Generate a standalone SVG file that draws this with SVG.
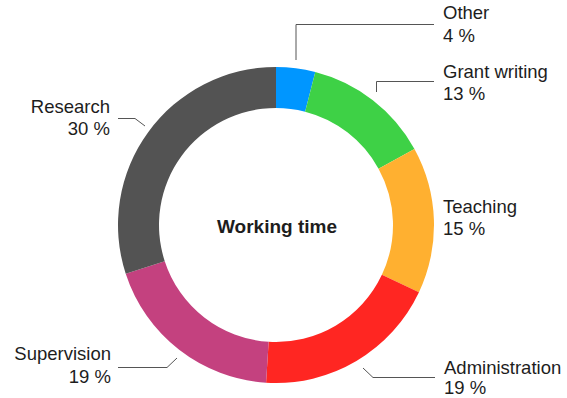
<svg xmlns="http://www.w3.org/2000/svg" width="567" height="398" viewBox="0 0 567 398">
<style>
text{font-family:"Liberation Sans",Arial,sans-serif;font-size:18.5px;fill:#1d1d1d}
.e{text-anchor:end}
.t{font-weight:bold;text-anchor:middle;font-size:19px}
.l{fill:none;stroke:#555;stroke-width:1}
</style>
<rect width="567" height="398" fill="#fff"/>
<g id="other"><path d="M276,67 A158,158 0 0 1 315.29,71.96 L305.10,111.68 A117,117 0 0 0 276,108 Z" fill="#0096ff"/><text x="443" y="19">Other</text><text x="443" y="42">4 %</text></g>
<g id="grant"><path d="M315.29,71.96 A158,158 0 0 1 414.46,148.88 L378.53,168.64 A117,117 0 0 0 305.10,111.68 Z" fill="#3ed146"/><text x="443" y="78">Grant writing</text><text x="443" y="100">13 %</text></g>
<g id="teaching"><path d="M414.46,148.88 A158,158 0 0 1 418.96,292.27 L381.87,274.82 A117,117 0 0 0 378.53,168.64 Z" fill="#ffb030"/><text x="443" y="213">Teaching</text><text x="443" y="235">15 %</text></g>
<g id="administration"><path d="M418.96,292.27 A158,158 0 0 1 266.08,382.69 L268.65,341.77 A117,117 0 0 0 381.87,274.82 Z" fill="#ff2622"/><text x="444" y="374">Administration</text><text x="444" y="394">19 %</text></g>
<g id="supervision"><path d="M266.08,382.69 A158,158 0 0 1 125.73,273.82 L164.73,261.16 A117,117 0 0 0 268.65,341.77 Z" fill="#c4417f"/><text class="e" x="111" y="360">Supervision</text><text class="e" x="111" y="383">19 %</text></g>
<g id="research"><path d="M125.73,273.82 A158,158 0 0 1 276,67 L276,108 A117,117 0 0 0 164.73,261.16 Z" fill="#535353"/><text class="e" x="110" y="113">Research</text><text class="e" x="110" y="135">30 %</text></g>
<g id="center"><text class="t" x="277" y="233">Working time</text></g>
<g id="connectors">
<polyline class="l" points="296,60 296,24.5 434,24.5"/>
<polyline class="l" points="376.5,92 376.5,81.5 434,81.5"/>
<polyline class="l" points="118,118.5 135,118.5 145,126"/>
<polyline class="l" points="118,367.5 167,367.5 177,358"/>
<polyline class="l" points="363,368 373,377.5 435,377.5"/>
</g>
</svg>
